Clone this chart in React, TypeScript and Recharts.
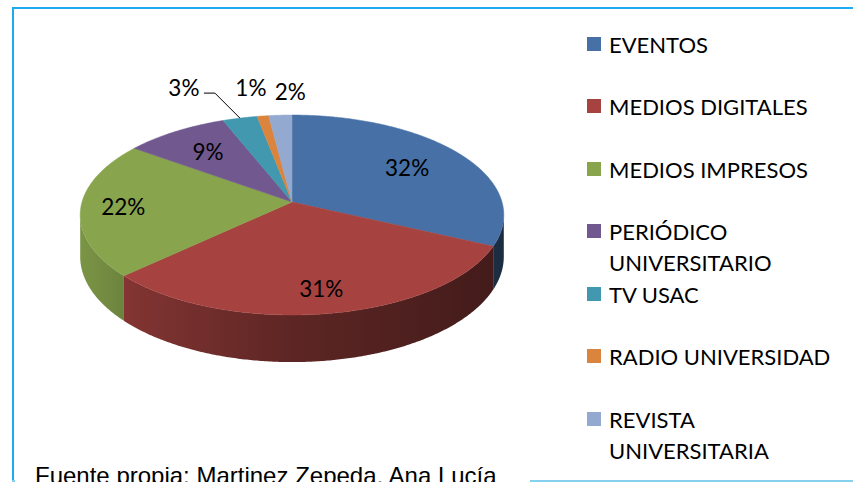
import React from 'react';
import { PieChart, Pie, Cell, Legend } from 'recharts';

const CATEGORIES = [
  'EVENTOS',
  'MEDIOS DIGITALES',
  'MEDIOS IMPRESOS',
  'PERIÓDICO UNIVERSITARIO',
  'TV USAC',
  'RADIO UNIVERSIDAD',
  'REVISTA UNIVERSITARIA',
];
const VALUES = [32, 31, 22, 9, 3, 1, 2];
const COLORS = ['#4670A6', '#A64340', '#88A44D', '#71588F', '#4198AF', '#DB843D', '#93A9CF'];
const SOURCE = 'Fuente propia: Martinez Zepeda, Ana Lucía';

const data = CATEGORIES.map((name, i) => ({ name, value: VALUES[i] }));

// label placement (styling only): inside radius fraction, or offset from rim
const LABEL_PLACEMENT: any[] = [
  { r: 0.68 },
  { r: 0.8 },
  { r: 0.8 },
  { r: 0.7 },
  { dx: -56, dy: -31, leader: true },
  { dx: -12, dy: -28 },
  { dx: 10, dy: -24 },
];

const FONT = 'Lato, "Open Sans", sans-serif';
const TILT = 0.468;
const PERSP = 0.13;
const DEPTH = 41;

function project(cx: number, cy: number, R: number, r: number, angleDeg: number) {
  const a = (angleDeg * Math.PI) / 180;
  const c = Math.cos(a);
  const s = Math.sin(a);
  const k = 1 / (1 + PERSP * (r / R) * s);
  return { x: cx + r * c * k, y: cy - r * TILT * s * k, k };
}

function shade(hex: string, f: number) {
  const n = parseInt(hex.slice(1), 16);
  const r = Math.round(((n >> 16) & 255) * f);
  const g = Math.round(((n >> 8) & 255) * f);
  const b = Math.round((n & 255) * f);
  return `rgb(${r},${g},${b})`;
}

function arcPoints(cx: number, cy: number, R: number, a0: number, a1: number) {
  const n = Math.max(2, Math.ceil(Math.abs(a1 - a0) / 0.5) + 1);
  const pts = [];
  for (let i = 0; i < n; i++) {
    const a = a0 + ((a1 - a0) * i) / (n - 1);
    pts.push(project(cx, cy, R, R, a));
  }
  return pts;
}

const SIL = Math.asin(PERSP) * (180 / Math.PI); // silhouette offset

const Slice3D = (props: any) => {
  const { cx, cy, outerRadius: R, startAngle, endAngle } = props;
  const name = props.payload?.name ?? props.name;
  const idx = CATEGORIES.indexOf(name);
  const color = COLORS[idx >= 0 ? idx : 0];
  const lo0 = Math.min(startAngle, endAngle);
  const hi0 = Math.max(startAngle, endAngle);
  const lo = Math.max(lo0, -180 + SIL);
  const hi = Math.min(hi0, -SIL);
  let side = null;
  const gid = `side-grad-${idx}`;
  if (hi > lo) {
    const top = arcPoints(cx, cy, R, lo, hi);
    const bottom = top.map((p) => ({ x: p.x, y: p.y + DEPTH * p.k })).reverse();
    const d =
      'M' + top.map((p) => `${p.x.toFixed(2)},${p.y.toFixed(2)}`).join('L') +
      'L' + bottom.map((p) => `${p.x.toFixed(2)},${p.y.toFixed(2)}`).join('L') + 'Z';
    side = (
      <g>
        <defs>
          <linearGradient id={gid} gradientUnits="userSpaceOnUse" x1={cx - R} y1={0} x2={cx + R} y2={0}>
            <stop offset="0" stopColor={shade(color, 0.9)} />
            <stop offset="0.12" stopColor={shade(color, 0.78)} />
            <stop offset="0.5" stopColor={shade(color, 0.56)} />
            <stop offset="1" stopColor={shade(color, 0.4)} />
          </linearGradient>
        </defs>
        <path d={d} fill={`url(#${gid})`} stroke="none" />
      </g>
    );
  }
  const rim = arcPoints(cx, cy, R, startAngle, endAngle);
  const dTop =
    `M${cx},${cy}L` + rim.map((p) => `${p.x.toFixed(2)},${p.y.toFixed(2)}`).join('L') + 'Z';
  return (
    <g>
      {side}
      <path d={dTop} fill={color} stroke={color} strokeWidth={0.5} />
    </g>
  );
};

const renderLabel = (props: any) => {
  const { cx, cy, outerRadius: R, startAngle, endAngle, percent, index } = props;
  const mid = props.midAngle ?? (startAngle + endAngle) / 2;
  const place = LABEL_PLACEMENT[index] || { r: 0.7 };
  const text = `${Math.round(percent * 100)}%`;
  if (place.r !== undefined) {
    const p = project(cx, cy, R, R * place.r, mid);
    return (
      <text key={`l-${index}`} x={p.x} y={p.y} textAnchor="middle" dominantBaseline="central"
        fontFamily={FONT} fontSize={22.5} fill="#000">
        {text}
      </text>
    );
  }
  const rim = project(cx, cy, R, R, mid);
  return (
    <g key={`l-${index}`}>
      {place.leader && (
        <polyline
          points={`${rim.x},${rim.y} ${rim.x - 25},${rim.y - 25} ${rim.x - 36},${rim.y - 25}`}
          fill="none" stroke="#000" strokeWidth={1}
        />
      )}
      <text x={rim.x + place.dx} y={rim.y + place.dy} textAnchor="middle" dominantBaseline="central"
        fontFamily={FONT} fontSize={22.5} fill="#000">
        {text}
      </text>
    </g>
  );
};

const renderLegend = (props: any) => {
  const payload = [...(props.payload || [])].sort(
    (a: any, b: any) => CATEGORIES.indexOf(a.value) - CATEGORIES.indexOf(b.value)
  );
  return (
    <div style={{ fontFamily: FONT, fontSize: 22, color: '#000' }}>
      {payload.map((entry: any, i: number) => {
        const idx = CATEGORIES.indexOf(entry.value);
        return (
          <div key={i} style={{ position: 'relative', height: 62.5 }}>
            <span style={{ position: 'absolute', left: 0, top: 8.3, width: 14, height: 14, background: COLORS[idx >= 0 ? idx : i] }} />
            <div style={{ position: 'absolute', left: 22, top: 0, width: 232, lineHeight: '31px', whiteSpace: 'normal' }}>
              {entry.value}
            </div>
          </div>
        );
      })}
    </div>
  );
};

export default function App() {
  return (
    <div style={{ position: 'absolute', left: 0, top: 0, width: 853, height: 482, overflow: 'hidden', background: '#fff' }}>
      <div style={{ position: 'absolute', left: 12, top: 7, width: 860, height: 2, background: '#1FA9F0' }} />
      <div style={{ position: 'absolute', left: 12, top: 7, width: 2, height: 480, background: '#1FA9F0' }} />
      <div style={{ position: 'absolute', left: 12, top: 480, width: 860, height: 2, background: '#86D0F0' }} />
      <div style={{ position: 'absolute', left: 0, top: 0 }}>
        <PieChart width={853} height={482} margin={{ top: 0, right: 0, bottom: 0, left: 0 }}>
          <Pie
            data={data}
            dataKey="value"
            nameKey="name"
            cx={292}
            cy={202}
            outerRadius={210}
            startAngle={90}
            endAngle={-270}
            stroke="none"
            isAnimationActive={false}
            shape={Slice3D}
            label={renderLabel}
            labelLine={false}
          >
            {data.map((d, i) => (
              <Cell key={d.name} fill={COLORS[i]} />
            ))}
          </Pie>
          <Legend
            layout="vertical"
            align="right"
            verticalAlign="top"
            itemSorter={null as any}
            content={renderLegend}
            wrapperStyle={{ left: 587, top: 28.5, width: 266 }}
          />
        </PieChart>
      </div>
      <div
        style={{
          position: 'absolute', left: 15, top: 460, width: 515, height: 22, background: '#fff',
        }}
      />
      <div
        style={{
          position: 'absolute', left: 35, top: 463.7, whiteSpace: 'nowrap',
          fontFamily: '"Liberation Sans", Arial, sans-serif', fontSize: 24, lineHeight: '24px', color: '#000',
        }}
      >
        {SOURCE}
      </div>
    </div>
  );
}
